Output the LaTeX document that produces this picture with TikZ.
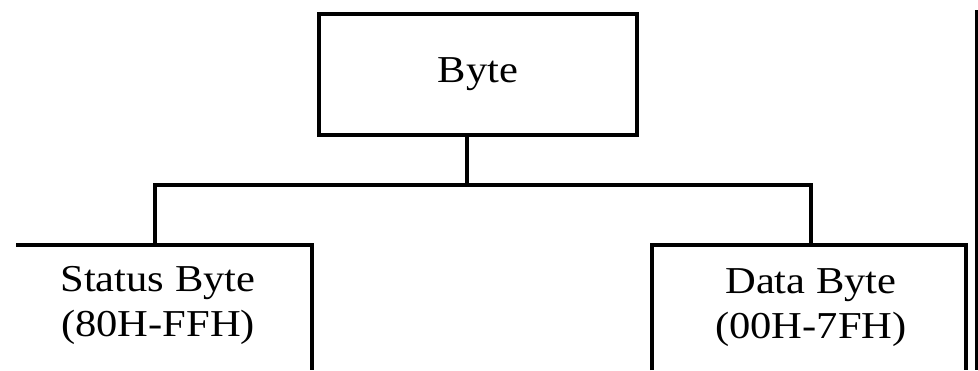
\documentclass[tikz,border=0pt]{standalone}
\usepackage{fontspec}
\setmainfont{Liberation Serif}[FakeStretch=1.12]
\tikzset{
  frame/.style={draw,line width=4pt},
  rootbox/.style={frame,rectangle,inner sep=0pt,minimum width=318pt,minimum height=121pt},
  kindtext/.style={align=center,inner sep=0pt,font=\fontsize{38}{45}\selectfont}
}
\begin{document}
\begin{tikzpicture}[x=1pt,y=1pt]
    \useasboundingbox (0,0) rectangle (978,370);
    \path
    (467,185) coordinate (split)
    (155,185) coordinate (L)
    (811,185) coordinate (R)
    (16,125) coordinate (SA)
    (312,125) coordinate (SB)
    (652,125) coordinate (DA)
    (966,125) coordinate (DB)
    ;
    \node[rootbox,font=\fontsize{38}{45}\selectfont] (byte) at (478,295.5) {Byte};
    \node[kindtext] (status) at (158,65) {Status Byte\\(80H-FFH)};
    \node[kindtext] (data) at (811,62) {Data Byte\\(00H-7FH)};
    % open boxes under the bus
    \draw[frame] (SA)--(SB)--(SB|-0,0);
    \draw[frame] (DA|-0,0)--(DA)--(DB)--(DB|-0,0);
    \draw[frame] (976.5,360)--(976.5,0);
    % tree connector
    \draw[frame] (byte.south-|split)--(split);
    \draw[frame] (L|-SA)--(L)--(R)--(R|-DA);
\end{tikzpicture}
\end{document}
